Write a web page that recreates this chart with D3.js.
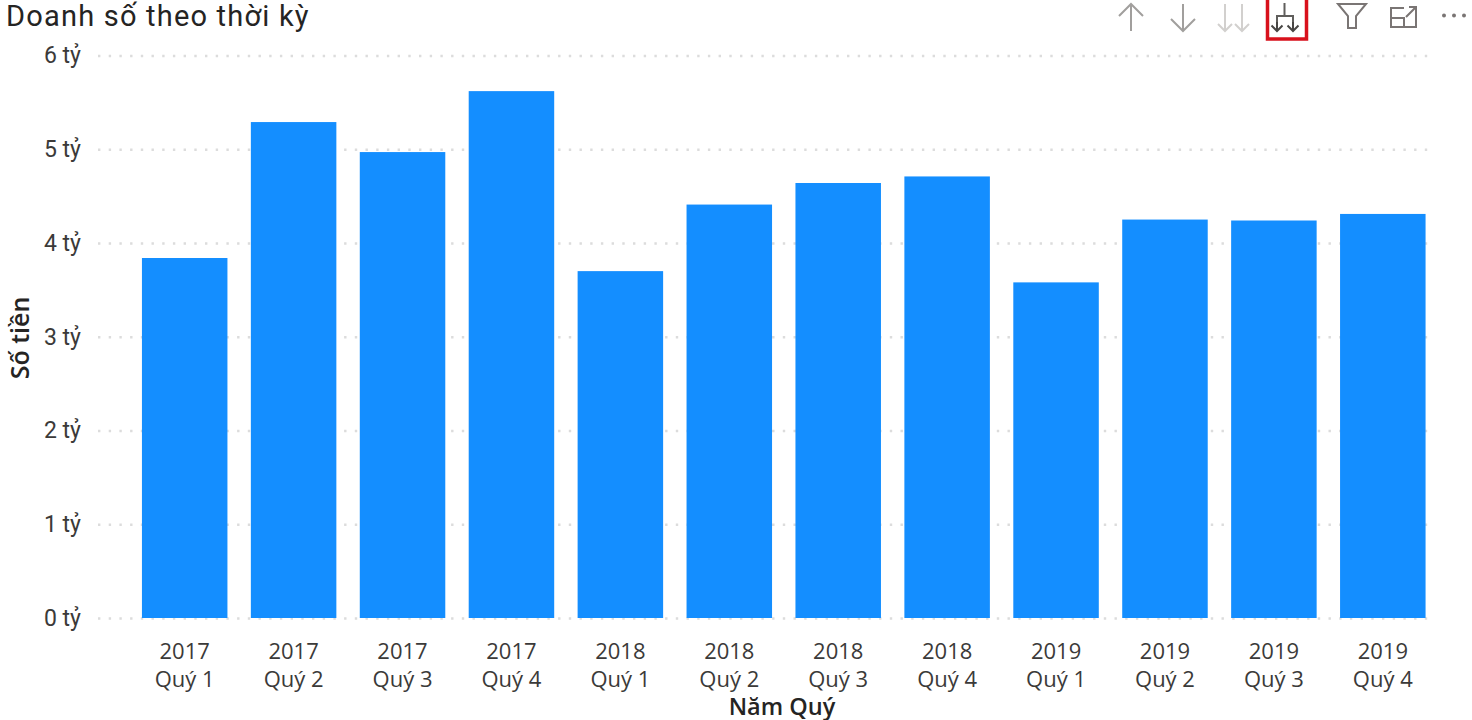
<!DOCTYPE html>
<html lang="vi"><head><meta charset="utf-8">
<script src="https://cdn.jsdelivr.net/npm/d3@7/dist/d3.min.js"></script>
<style>
html,body{margin:0;padding:0;background:#fff;overflow:hidden}
text{font-family:Roboto,"Noto Sans",sans-serif}
.os{font-family:"Open Sans","Noto Sans",sans-serif}
</style></head><body><svg id="c" width="1472" height="720"></svg>
<script>
const years=["2017","2017","2017","2017","2018","2018","2018","2018","2019","2019","2019","2019"];
const quarters=["Quý 1","Quý 2","Quý 3","Quý 4","Quý 1","Quý 2","Quý 3","Quý 4","Quý 1","Quý 2","Quý 3","Quý 4"];
const values=[3.84,5.29,4.97,5.62,3.70,4.41,4.64,4.71,3.58,4.25,4.24,4.31];
const yTicks=[0,1,2,3,4,5,6];
const titleText="Doanh số theo thời kỳ", yTitle="Số tiền", xTitle="Năm Quý";

const svg=d3.select("#c");
const x=d3.scaleBand().domain(d3.range(values.length)).range([130.5,1437]).paddingInner(0.215).paddingOuter(0.105);
const y=d3.scaleLinear().domain([0,6]).range([618,55.5]);

svg.append("text").attr("x",6).attr("y",25.5).attr("font-size",29).attr("letter-spacing",1.2).attr("fill","#252423").text(titleText);

const gy=svg.append("g").attr("transform","translate(98,0)").call(d3.axisLeft(y).tickValues(yTicks).tickSize(0).tickPadding(17).tickFormat(d=>d+" tỷ"));
gy.select(".domain").remove();
gy.selectAll("text").attr("font-size",23).attr("fill","#3b3a39");
gy.selectAll("line").attr("x1",0).attr("x2",1330).attr("stroke","#dcdcdc").attr("stroke-width",2.4).attr("stroke-dasharray","2.4 8.3");

svg.append("g").selectAll("rect").data(values).join("rect")
 .attr("x",(d,i)=>x(i)).attr("width",x.bandwidth()).attr("y",d=>y(d)).attr("height",d=>y(0)-y(d)).attr("fill","#148eff");

const gx=svg.append("g").attr("transform","translate(0,618)").call(d3.axisBottom(x).tickSize(0).tickFormat(()=>""));
gx.select(".domain").remove();
gx.selectAll("g.tick").each(function(i){
  const g=d3.select(this); g.selectAll("text").remove();
  g.append("text").attr("class","os").attr("y",41).attr("text-anchor","middle").attr("font-size",22).attr("fill","#3b3a39").text(years[i]);
  g.append("text").attr("class","os").attr("y",69).attr("text-anchor","middle").attr("font-size",22).attr("fill","#3b3a39").text(quarters[i]);
});
svg.append("text").attr("class","os").attr("x",782).attr("y",714.5).attr("text-anchor","middle").attr("font-size",23.5).attr("font-weight",600).attr("fill","#252423").text(xTitle);
svg.append("text").attr("class","os").attr("transform","translate(29,338) rotate(-90)").attr("text-anchor","middle").attr("font-size",25).attr("font-weight",600).attr("fill","#252423").text(yTitle);

// header icons
const icons=svg.append("g").attr("fill","none").attr("stroke-width",2);
function arrow(g,cx,top,bot,w,col,sw){g.append("path").attr("d",`M${cx} ${top}V${bot}`).attr("stroke",col).attr("stroke-width",sw||2);
 g.append("path").attr("d",`M${cx-w} ${bot-w}L${cx} ${bot}L${cx+w} ${bot-w}`).attr("stroke",col).attr("stroke-width",sw||2);}
icons.append("path").attr("d","M1131 31V4M1119 16L1131 4L1143 16").attr("stroke","#a19f9d");
arrow(icons,1183,4,31,12,"#a19f9d");
arrow(icons,1225,4,31,7,"#d2d0ce");
arrow(icons,1242,4,31,7,"#d2d0ce");
icons.append("path").attr("d","M1284.5 3V16M1277 31V16H1293V31").attr("stroke","#605e5c");
arrow(icons,1277,22,31,5.5,"#484644");
arrow(icons,1293,22,31,5.5,"#484644");
icons.append("rect").attr("x",1267.5).attr("y",-2).attr("width",39).attr("height",41).attr("stroke","#d8111c").attr("stroke-width",3.5);
icons.append("path").attr("d","M1338 4H1366L1356 16V28H1348V16Z").attr("stroke","#7a7574");
icons.append("path").attr("d","M1404 8H1391V27H1416V14M1391 18H1404V27M1406 17L1416 7M1409 7H1416V14").attr("stroke","#7a7574");
svg.append("g").selectAll("circle").data([1444,1454,1464]).join("circle").attr("cx",d=>d).attr("cy",15.5).attr("r",2).attr("fill","#7a7574");
</script></body></html>
